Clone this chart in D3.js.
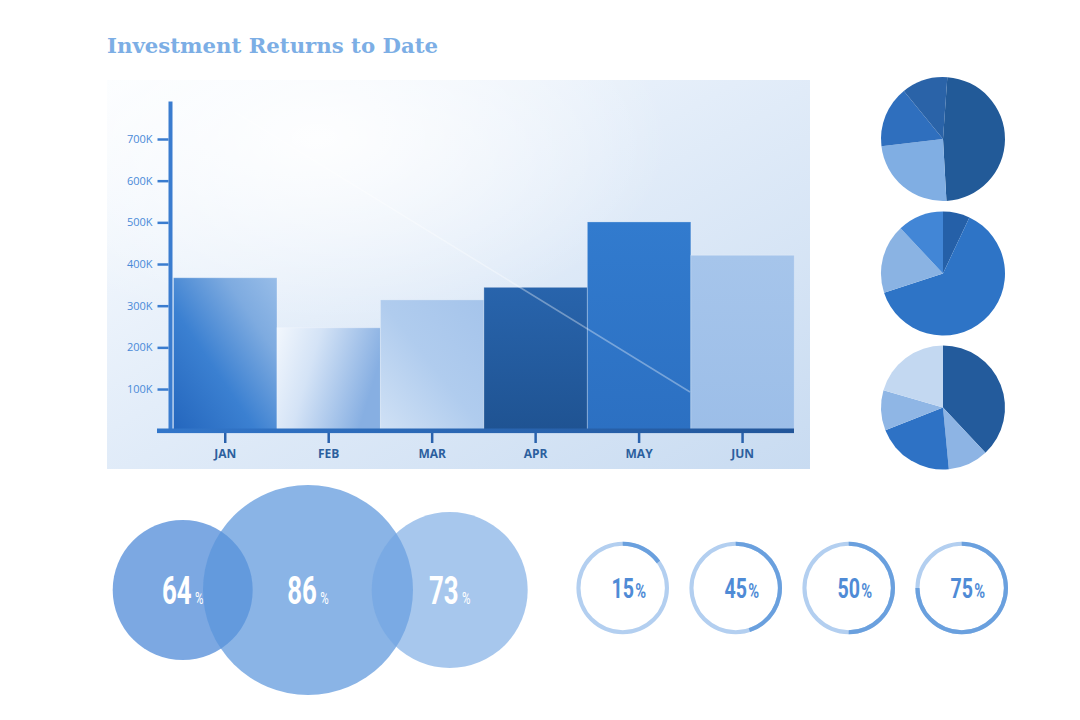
<!DOCTYPE html>
<html lang="en">
<head>
<meta charset="utf-8">
<title>Investment Returns to Date</title>
<script src="https://cdn.jsdelivr.net/npm/d3@7"></script>
<style>
body { margin: 0; background: #fff; }
svg { display: block; }
.title { font-family: "DejaVu Serif", serif; font-weight: bold; font-size: 21px; fill: #7caee5; }
.y-axis text { font-family: "Open Sans", sans-serif; font-size: 11px; fill: #4a8ad8; }
.y-axis line { stroke: #3a7ccf; stroke-width: 2.5; }
.x-axis text { font-family: "Open Sans", sans-serif; font-weight: bold; font-size: 12px; fill: #2c5f9e; }
.x-axis line { stroke: #2a62ad; stroke-width: 2.5; }
.big-num { font-family: Roboto, sans-serif; font-weight: bold; fill: #fff; }
.ring-num { font-family: Roboto, sans-serif; font-weight: bold; fill: #4f8bd6; }
</style>
</head>
<body>
<script>
// data
var months = ["JAN", "FEB", "MAR", "APR", "MAY", "JUN"];
var returns = [367000, 247000, 314000, 344000, 501000, 421000];
var yTicks = [100000, 200000, 300000, 400000, 500000, 600000, 700000];

var pieA = [48, 24, 16, 12];
var pieB = [7, 63, 18, 12];
var pieC = [38, 10.5, 20.5, 10.5, 20.5];

var bubbleValues = [64, 86, 73];
var ringValues = [15, 45, 50, 75];

// layout & styles
var W = 1080, H = 720;
var pieColors = [
  ["#225a98", "#80aee3", "#2f6fbe", "#2a63a8"],
  ["#2560a8", "#2e74c6", "#8ab3e3", "#4286d6"],
  ["#235b9c", "#8db4e4", "#2e72c5", "#8fb6e5", "#c3d8f1"]
];
var pieStart = [0.07, 0, 0];
var pieCy = [139, 273.5, 407.5];
var bubbleX = [182.7, 308, 449.7];
var bubbleR = [70, 105, 78];
var bubbleFill = ["rgb(69,131,214)", "rgb(89,148,220)", "rgb(113,165,226)"];
var bubbleAlpha = [0.7, 0.7, 0.62];

var svg = d3.select("body").append("svg")
  .attr("width", W)
  .attr("height", H);

var defs = svg.append("defs");

function linGrad(id, x1, y1, x2, y2, stops) {
  var g = defs.append("linearGradient").attr("id", id)
    .attr("x1", x1).attr("y1", y1).attr("x2", x2).attr("y2", y2);
  stops.forEach(function(s) {
    g.append("stop").attr("offset", s[0]).attr("stop-color", s[1]);
  });
}

linGrad("panelGrad", 0, 0, 1, 1, [[0, "#fbfdff"], [0.45, "#e3edf9"], [1, "#c8dbf1"]]);
var rg = defs.append("radialGradient").attr("id", "glow")
  .attr("cx", 0.3).attr("cy", 0.15).attr("r", 0.5);
rg.append("stop").attr("offset", 0).attr("stop-color", "#fff").attr("stop-opacity", 0.9);
rg.append("stop").attr("offset", 1).attr("stop-color", "#fff").attr("stop-opacity", 0);

var barGrads = [
  [0, 1, 1, 0, [[0, "#2466bd"], [0.4, "#3b80d1"], [0.75, "#7eabe0"], [1, "#98bde8"]]],
  [0, 0, 1, 0.3, [[0, "#f2f7fd"], [0.4, "#d4e3f6"], [1, "#87afe2"]]],
  [0, 1, 1, 0, [[0, "#d0e1f5"], [0.5, "#b0ccee"], [1, "#a5c4eb"]]],
  [0, 0, 0, 1, [[0, "#2864ac"], [1, "#1f5392"]]],
  [0, 0, 0, 1, [[0, "#327bce"], [1, "#2c70c2"]]],
  [0, 0, 0, 1, [[0, "#a6c5eb"], [1, "#9cbee8"]]]
];
barGrads.forEach(function(b, i) {
  linGrad("bar" + i, b[0], b[1], b[2], b[3], b[4]);
});
linGrad("xAxisGrad", 0, 0, 1, 0, [[0, "#3276ca"], [1, "#22569a"]]);

// title
svg.append("text").attr("class", "title")
  .attr("x", 107).attr("y", 53)
  .attr("textLength", 331).attr("lengthAdjust", "spacingAndGlyphs")
  .text("Investment Returns to Date");

// panel
svg.append("rect").attr("x", 107).attr("y", 80).attr("width", 703).attr("height", 389)
  .attr("fill", "url(#panelGrad)");
svg.append("rect").attr("x", 107).attr("y", 80).attr("width", 703).attr("height", 389)
  .attr("fill", "url(#glow)");

// scales
var x = d3.scaleBand().domain(months).range([173.5, 794.3]).padding(0);
var y = d3.scaleLinear().domain([0, 700000]).range([430.7, 139]);

// bars
svg.append("g").selectAll("rect")
  .data(returns)
  .enter().append("rect")
  .attr("x", function(d, i) { return x(months[i]); })
  .attr("y", function(d) { return y(d); })
  .attr("width", x.bandwidth())
  .attr("height", function(d) { return y(0) - y(d); })
  .attr("fill", function(d, i) { return "url(#bar" + i + ")"; })
  .attr("stroke", "rgba(255,255,255,0.25)")
  .attr("stroke-width", 1);

// light streak
svg.append("line")
  .attr("x1", 235).attr("y1", 112).attr("x2", 690).attr("y2", 392)
  .attr("stroke", "#fff").attr("stroke-opacity", 0.35).attr("stroke-width", 1.5);

// y axis
var yAxis = svg.append("g").attr("class", "y-axis")
  .attr("transform", "translate(168.5,0)")
  .call(d3.axisLeft(y).tickValues(yTicks)
    .tickFormat(function(d) { return d / 1000 + "K"; })
    .tickSize(11).tickPadding(5));
yAxis.select(".domain").remove();
svg.append("line")
  .attr("x1", 170.5).attr("x2", 170.5)
  .attr("y1", y(790000)).attr("y2", 431)
  .attr("stroke", "#3a7ccf").attr("stroke-width", 4);

// x axis
var xAxis = svg.append("g").attr("class", "x-axis")
  .attr("transform", "translate(0,431)")
  .call(d3.axisBottom(x).tickSize(12).tickPadding(6));
xAxis.select(".domain").remove();
svg.append("rect")
  .attr("x", 157).attr("y", 428.5).attr("width", 637).attr("height", 4.6)
  .attr("fill", "url(#xAxisGrad)");

// pies
var arcPie = d3.arc().innerRadius(0).outerRadius(62);
[pieA, pieB, pieC].forEach(function(vals, k) {
  var pie = d3.pie().sort(null)
    .startAngle(pieStart[k]).endAngle(pieStart[k] + 2 * Math.PI);
  svg.append("g")
    .attr("transform", "translate(943," + pieCy[k] + ")")
    .selectAll("path")
    .data(pie(vals))
    .enter().append("path")
    .attr("d", arcPie)
    .attr("fill", function(d, i) { return pieColors[k][i]; });
});

// bubbles
var bub = svg.append("g").selectAll("g")
  .data(bubbleValues)
  .enter().append("g")
  .attr("transform", function(d, i) { return "translate(" + bubbleX[i] + ",590)"; });
bub.append("circle")
  .attr("r", function(d, i) { return bubbleR[i]; })
  .attr("fill", function(d, i) { return bubbleFill[i]; })
  .attr("fill-opacity", function(d, i) { return bubbleAlpha[i]; });
var bt = bub.append("text").attr("class", "big-num")
  .attr("transform", "translate(0,14) scale(0.68,1)")
  .attr("text-anchor", "middle");
bt.append("tspan").attr("font-size", 38).text(function(d) { return d; });
bt.append("tspan").attr("font-size", 17).attr("font-weight", 400).attr("dx", 5).text("%");

// rings
var ringArc = d3.arc().innerRadius(42.2).outerRadius(46.3).startAngle(0);
var ring = svg.append("g").selectAll("g")
  .data(ringValues)
  .enter().append("g")
  .attr("transform", function(d, i) { return "translate(" + (622.7 + i * 113) + ",588)"; });
ring.append("path")
  .attr("d", function() { return ringArc({ endAngle: 2 * Math.PI }); })
  .attr("fill", "#b3cff0");
ring.append("path")
  .attr("d", function(d) { return ringArc({ endAngle: d / 100 * 2 * Math.PI }); })
  .attr("fill", "#6aa0de");
var rt = ring.append("g").attr("transform", "translate(0,10.3) scale(0.7,1)");
rt.append("text").attr("class", "ring-num")
  .attr("text-anchor", "middle")
  .attr("font-size", 28)
  .text(function(d) { return d; });
rt.each(function() {
  var g = d3.select(this);
  var w = g.select("text").node().getComputedTextLength();
  g.append("text").attr("class", "ring-num")
    .attr("x", w / 2 + 2)
    .attr("font-size", 21).attr("font-weight", 400)
    .text("%");
});
</script>
</body>
</html>
